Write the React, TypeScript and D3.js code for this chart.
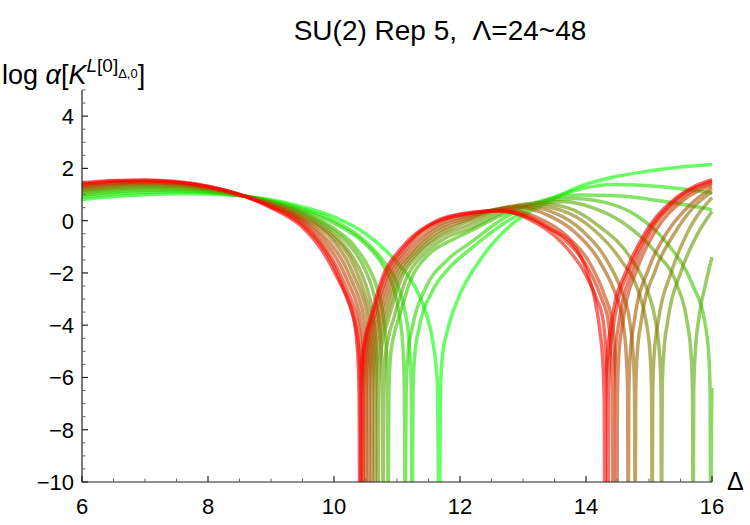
import { useRef, useEffect } from "react";
import * as d3 from "d3";

// Λ values, green (24) -> red (48)
const LAMBDAS = [24, 26, 28, 30, 32, 34, 36, 38, 40, 42, 44, 46, 48];

// [Δ, log α] points
const curve24 = [[6,0.81],[6.5,0.92],[7,0.99],[7.5,1.03],[8,1.02],[8.6,0.93],[9,0.8],[9.5,0.53],[10,0.15],[10.5,-0.5],[11,-1.6],[11.3,-2.6],[11.47,-3.6],[11.58,-4.8],[11.64,-6.2],[11.67,-12],[11.69,-6.5],[11.72,-5.2],[11.8,-4.2],[11.95,-3.1],[12.32,-1.5],[12.85,-0.08],[13.38,0.69],[13.9,1.31],[14.4,1.65],[14.97,1.89],[15.5,2.05],[16,2.15]];
const curve26 = [[6,0.9],[6.5,1.02],[7,1.09],[7.5,1.11],[8,1.07],[8.6,0.93],[9,0.76],[9.5,0.45],[10,0.0],[10.5,-0.8],[10.8,-1.6],[11,-2.4],[11.12,-3.4],[11.19,-4.6],[11.225,-6.2],[11.24,-12],[11.255,-6.5],[11.28,-5.2],[11.36,-4.0],[11.55,-2.75],[11.85,-1.75],[12.16,-1.1],[12.7,-0.1],[13.35,0.75],[13.9,1.2],[14.43,1.38],[15.2,1.3],[16,1.07]];
const curve28 = [[6,0.97],[6.5,1.09],[7,1.15],[7.5,1.16],[8,1.1],[8.6,0.93],[9,0.74],[9.5,0.4],[10,-0.1],[10.5,-0.9],[10.8,-1.8],[10.95,-2.6],[11.03,-3.5],[11.09,-4.7],[11.115,-6.3],[11.13,-12],[11.145,-6.5],[11.17,-5.2],[11.25,-4.0],[11.45,-2.6],[11.8,-1.5],[12.16,-0.85],[12.7,0.1],[13.35,0.8],[13.9,0.98],[14.5,0.95],[15.2,0.75],[16,0.42]];
const curve30 = [[6,1.04],[6.5,1.16],[7,1.22],[7.5,1.22],[8,1.14],[8.6,0.93],[9,0.72],[9.5,0.34],[10,-0.3],[10.3,-0.9],[10.55,-1.8],[10.7,-2.7],[10.78,-3.6],[10.83,-4.9],[10.85,-6.4],[10.86,-12],[10.87,-6.8],[10.89,-5.4],[10.95,-4.4],[11.02,-3.8],[11.23,-2.2],[11.5,-1.3],[11.86,-0.75],[12.16,-0.4],[12.7,0.25],[13.35,0.75],[13.8,0.85],[14.3,0.7],[14.8,0.2],[15.3,-0.9],[15.7,-2.5],[15.88,-3.8],[15.95,-5.2],[15.97,-6.5],[15.98,-12],[15.99,-8],[16,-6.4]];
const curve32 = [[6,1.1],[6.5,1.22],[7,1.28],[7.5,1.27],[8,1.17],[8.6,0.93],[9,0.7],[9.5,0.29],[10,-0.4],[10.3,-1.1],[10.5,-1.9],[10.62,-2.7],[10.7,-3.6],[10.75,-4.9],[10.77,-6.4],[10.78,-12],[10.79,-6.8],[10.81,-5.4],[10.87,-4.4],[10.94,-3.8],[11.15,-2.2],[11.42,-1.3],[11.78,-0.65],[12.16,-0.3],[12.7,0.35],[13.35,0.7],[13.65,0.72],[14.1,0.5],[14.6,-0.1],[15.1,-1.2],[15.45,-2.5],[15.6,-3.8],[15.67,-5.2],[15.69,-6.5],[15.7,-12],[15.71,-6.5],[15.73,-5.2],[15.8,-3.6],[15.9,-2.4],[16,-1.4]];
const curve34 = [[6,1.15],[6.5,1.27],[7,1.33],[7.5,1.31],[8,1.2],[8.6,0.93],[9,0.68],[9.5,0.24],[10,-0.55],[10.3,-1.4],[10.45,-2.1],[10.55,-2.8],[10.62,-3.6],[10.67,-4.9],[10.69,-6.4],[10.7,-12],[10.71,-6.8],[10.73,-5.4],[10.79,-4.4],[10.86,-3.8],[11.07,-2.2],[11.34,-1.3],[11.7,-0.6],[12.16,-0.15],[12.7,0.45],[13.2,0.67],[13.7,0.5],[14.2,-0.2],[14.7,-1.4],[14.98,-2.7],[15.1,-3.8],[15.17,-5.2],[15.19,-6.5],[15.2,-12],[15.21,-6.5],[15.23,-5.2],[15.3,-3.8],[15.5,-2.0],[15.75,-0.6],[16,0.35]];
const curve36 = [[6,1.2],[6.5,1.32],[7,1.37],[7.5,1.35],[8,1.23],[8.6,0.93],[9,0.66],[9.5,0.18],[10,-0.65],[10.25,-1.4],[10.4,-2.2],[10.5,-2.9],[10.57,-3.6],[10.62,-4.9],[10.64,-6.4],[10.65,-12],[10.66,-6.8],[10.68,-5.4],[10.74,-4.4],[10.81,-3.8],[11.02,-2.2],[11.29,-1.3],[11.65,-0.55],[12.16,0.0],[12.7,0.5],[13.1,0.6],[13.6,0.4],[14.1,-0.3],[14.55,-1.5],[14.83,-2.7],[14.95,-3.8],[15.02,-5.2],[15.04,-6.5],[15.05,-12],[15.06,-6.5],[15.08,-5.2],[15.15,-3.8],[15.35,-2.0],[15.6,-0.5],[16,0.88]];
const curve38 = [[6,1.25],[6.5,1.36],[7,1.41],[7.5,1.38],[8,1.25],[8.6,0.93],[9,0.63],[9.5,0.12],[10,-0.8],[10.2,-1.5],[10.35,-2.3],[10.45,-2.9],[10.52,-3.6],[10.57,-4.9],[10.59,-6.4],[10.6,-12],[10.61,-6.8],[10.63,-5.4],[10.69,-4.4],[10.76,-3.8],[10.97,-2.2],[11.24,-1.3],[11.6,-0.5],[12.16,0.08],[12.6,0.45],[13.0,0.55],[13.5,0.3],[13.95,-0.4],[14.35,-1.6],[14.58,-2.8],[14.69,-3.8],[14.75,-5.2],[14.77,-6.5],[14.78,-12],[14.79,-6.5],[14.81,-5.2],[14.88,-3.8],[15.1,-1.9],[15.4,-0.5],[15.7,0.5],[16,1.1]];
const curve40 = [[6,1.29],[6.5,1.4],[7,1.45],[7.5,1.41],[8,1.27],[8.6,0.93],[9,0.61],[9.5,0.06],[9.9,-0.75],[10.15,-1.6],[10.3,-2.4],[10.4,-3.0],[10.47,-3.7],[10.52,-4.9],[10.54,-6.4],[10.55,-12],[10.56,-6.8],[10.58,-5.4],[10.64,-4.4],[10.71,-3.8],[10.92,-2.2],[11.19,-1.3],[11.55,-0.45],[12.16,0.15],[12.6,0.45],[12.95,0.5],[13.4,0.2],[13.85,-0.5],[14.25,-1.7],[14.48,-2.9],[14.58,-3.8],[14.64,-5.2],[14.66,-6.5],[14.67,-12],[14.68,-6.5],[14.7,-5.2],[14.77,-3.8],[15.0,-1.8],[15.3,-0.4],[15.65,0.6],[16,1.25]];
const curve42 = [[6,1.33],[6.5,1.44],[7,1.48],[7.5,1.44],[8,1.28],[8.6,0.92],[9,0.58],[9.5,0.0],[9.85,-0.8],[10.1,-1.7],[10.25,-2.5],[10.35,-3.1],[10.42,-3.8],[10.47,-5.0],[10.49,-6.4],[10.5,-12],[10.51,-6.8],[10.53,-5.4],[10.59,-4.4],[10.66,-3.8],[10.87,-2.2],[11.14,-1.25],[11.5,-0.4],[12.16,0.22],[12.7,0.43],[13.2,0.15],[13.7,-0.6],[14.1,-1.8],[14.3,-2.9],[14.41,-3.8],[14.46,-5.2],[14.48,-6.5],[14.49,-12],[14.5,-6.5],[14.52,-5.2],[14.59,-3.8],[14.82,-1.8],[15.1,-0.4],[15.5,0.7],[16,1.35]];
const curve44 = [[6,1.37],[6.5,1.48],[7,1.51],[7.5,1.46],[8,1.3],[8.6,0.92],[9,0.55],[9.5,-0.08],[9.8,-0.85],[10.05,-1.8],[10.2,-2.6],[10.3,-3.2],[10.38,-3.9],[10.43,-5.0],[10.45,-6.4],[10.46,-12],[10.47,-6.8],[10.49,-5.4],[10.55,-4.4],[10.62,-3.8],[10.83,-2.2],[11.1,-1.2],[11.46,-0.3],[12.16,0.27],[12.65,0.4],[13.15,0.1],[13.65,-0.7],[14.05,-1.9],[14.25,-3.0],[14.35,-3.8],[14.4,-5.2],[14.42,-6.5],[14.43,-12],[14.44,-6.5],[14.46,-5.2],[14.53,-3.8],[14.76,-1.8],[15.03,-0.4],[15.45,0.75],[16,1.45]];
const curve46 = [[6,1.41],[6.5,1.51],[7,1.54],[7.5,1.48],[8,1.31],[8.6,0.92],[9,0.53],[9.5,-0.16],[9.8,-0.95],[10.05,-2.0],[10.18,-2.8],[10.27,-3.4],[10.34,-4.0],[10.4,-5.1],[10.42,-6.5],[10.43,-12],[10.44,-6.8],[10.46,-5.4],[10.52,-4.4],[10.59,-3.8],[10.8,-2.15],[11.07,-1.15],[11.5,-0.2],[12.16,0.29],[12.6,0.38],[13.1,0.05],[13.6,-0.8],[13.98,-2.0],[14.17,-3.0],[14.27,-3.8],[14.32,-5.2],[14.34,-6.5],[14.35,-12],[14.36,-6.5],[14.38,-5.2],[14.45,-3.8],[14.7,-1.8],[14.98,-0.45],[15.45,0.85],[16,1.5]];
const curve48 = [[6,1.45],[6.5,1.54],[7,1.56],[7.5,1.5],[8,1.32],[8.6,0.92],[9,0.5],[9.5,-0.25],[9.8,-1.1],[10.1,-2.4],[10.22,-3.0],[10.3,-3.6],[10.36,-4.6],[10.39,-5.8],[10.4,-7.0],[10.41,-12],[10.42,-7.0],[10.44,-5.5],[10.5,-4.4],[10.57,-3.8],[10.78,-2.1],[11.05,-1.1],[11.57,-0.08],[12.16,0.31],[12.6,0.37],[13.0,0.2],[13.38,-0.25],[13.85,-1.1],[14.05,-2.2],[14.14,-3.0],[14.22,-4.2],[14.27,-5.5],[14.29,-7.0],[14.3,-12],[14.31,-7.0],[14.33,-5.5],[14.41,-3.8],[14.67,-1.75],[14.94,-0.46],[15.46,0.93],[16,1.57]];

const CURVES = [curve24, curve26, curve28, curve30, curve32, curve34, curve36, curve38, curve40, curve42, curve44, curve46, curve48];

const X_TICKS = [6, 8, 10, 12, 14, 16];
const Y_TICKS = [-10, -8, -6, -4, -2, 0, 2, 4];

const FONT = "'Liberation Sans', Arial, Helvetica, sans-serif";

const App = () => {
  const svgRef = useRef(null);

  useEffect(() => {
    const svg = d3.select(svgRef.current);
    svg.selectAll("*").remove();

    const xScale = d3.scaleLinear().domain([6, 16]).range([82, 712]);
    const yScale = d3.scaleLinear().domain([-10, 5]).range([482, 90]);

    svg.append("defs")
      .append("clipPath")
      .attr("id", "plot-clip")
      .append("rect")
      .attr("x", 80)
      .attr("y", 80)
      .attr("width", 636)
      .attr("height", 402);

    // curves, green first so red sits on top
    const color = d3.interpolateRgb("rgb(0,255,0)", "rgb(255,0,0)");
    const line = d3
      .line()
      .x((d) => xScale(d[0]))
      .y((d) => yScale(d[1]))
      .curve(d3.curveMonotoneX);

    const g = svg.append("g").attr("clip-path", "url(#plot-clip)");
    CURVES.forEach((pts, i) => {
      g.append("path")
        .datum(pts)
        .attr("fill", "none")
        .attr("stroke", color(i / (LAMBDAS.length - 1)))
        .attr("stroke-opacity", 0.6)
        .attr("stroke-width", 3.5)
        .attr("stroke-linejoin", "round")
        .attr("d", line);
    });

    // axes, Mathematica style: ticks pointing inward
    const axis = svg.append("g").attr("stroke", "#222").attr("stroke-width", 1.2);
    axis.append("line").attr("x1", 82).attr("x2", 712).attr("y1", 482).attr("y2", 482);
    axis.append("line").attr("x1", 82).attr("x2", 82).attr("y1", 482).attr("y2", 90);

    const xMinor = d3.range(6, 16.001, 0.5).filter((v) => !X_TICKS.includes(v));
    const yMinor = d3.range(-10, 5.001, 0.5).filter((v) => !Y_TICKS.includes(v));

    svg.selectAll(".x-major")
      .data(X_TICKS)
      .enter()
      .append("line")
      .attr("x1", (d) => xScale(d))
      .attr("x2", (d) => xScale(d))
      .attr("y1", 482)
      .attr("y2", 476)
      .attr("stroke", "#222")
      .attr("stroke-width", 1.2);
    svg.selectAll(".x-minor")
      .data(xMinor)
      .enter()
      .append("line")
      .attr("x1", (d) => xScale(d))
      .attr("x2", (d) => xScale(d))
      .attr("y1", 482)
      .attr("y2", 478.5)
      .attr("stroke", "#666")
      .attr("stroke-width", 1);
    svg.selectAll(".y-major")
      .data(Y_TICKS)
      .enter()
      .append("line")
      .attr("x1", 82)
      .attr("x2", 88)
      .attr("y1", (d) => yScale(d))
      .attr("y2", (d) => yScale(d))
      .attr("stroke", "#222")
      .attr("stroke-width", 1.2);
    svg.selectAll(".y-minor")
      .data(yMinor)
      .enter()
      .append("line")
      .attr("x1", 82)
      .attr("x2", 85.5)
      .attr("y1", (d) => yScale(d))
      .attr("y2", (d) => yScale(d))
      .attr("stroke", "#666")
      .attr("stroke-width", 1);

    const fmt = (v) => (v < 0 ? `\u2212${-v}` : `${v}`);

    svg.selectAll(".x-label")
      .data(X_TICKS)
      .enter()
      .append("text")
      .attr("x", (d) => xScale(d))
      .attr("y", 514)
      .attr("text-anchor", "middle")
      .style("font-family", FONT)
      .style("font-size", "22px")
      .text(fmt);

    svg.selectAll(".y-label")
      .data(Y_TICKS)
      .enter()
      .append("text")
      .attr("x", 74)
      .attr("y", (d) => yScale(d))
      .attr("dy", "0.36em")
      .attr("text-anchor", "end")
      .style("font-family", FONT)
      .style("font-size", "22px")
      .text(fmt);

    svg.append("text")
      .attr("x", 440)
      .attr("y", 40)
      .attr("text-anchor", "middle")
      .style("font-family", FONT)
      .style("font-size", "28px")
      .style("white-space", "pre")
      .text("SU(2) Rep 5,  \u039B=24~48");

    svg.append("text")
      .attr("x", 727)
      .attr("y", 490)
      .style("font-family", FONT)
      .style("font-size", "25px")
      .text("\u0394");

    const yl = svg.append("text")
      .attr("x", 2)
      .attr("y", 84)
      .style("font-family", FONT)
      .style("font-size", "27px")
      .style("white-space", "pre");
    yl.append("tspan").text("log ");
    yl.append("tspan").style("font-style", "italic").text("\u03B1");
    yl.append("tspan").text("[");
    yl.append("tspan").style("font-style", "italic").text("K");
    yl.append("tspan").attr("dy", -12).style("font-size", "19px").style("font-style", "italic").text("L");
    yl.append("tspan").style("font-size", "19px").text("[0]");
    yl.append("tspan").attr("dy", 6).style("font-size", "13px").text("\u0394,0");
    yl.append("tspan").attr("dy", 6).text("]");
  }, []);

  return (
    <svg
      ref={svgRef}
      width={750}
      height={525}
      style={{ position: "absolute", left: 0, top: 0, background: "#fff" }}
    ></svg>
  );
};

export default App;
